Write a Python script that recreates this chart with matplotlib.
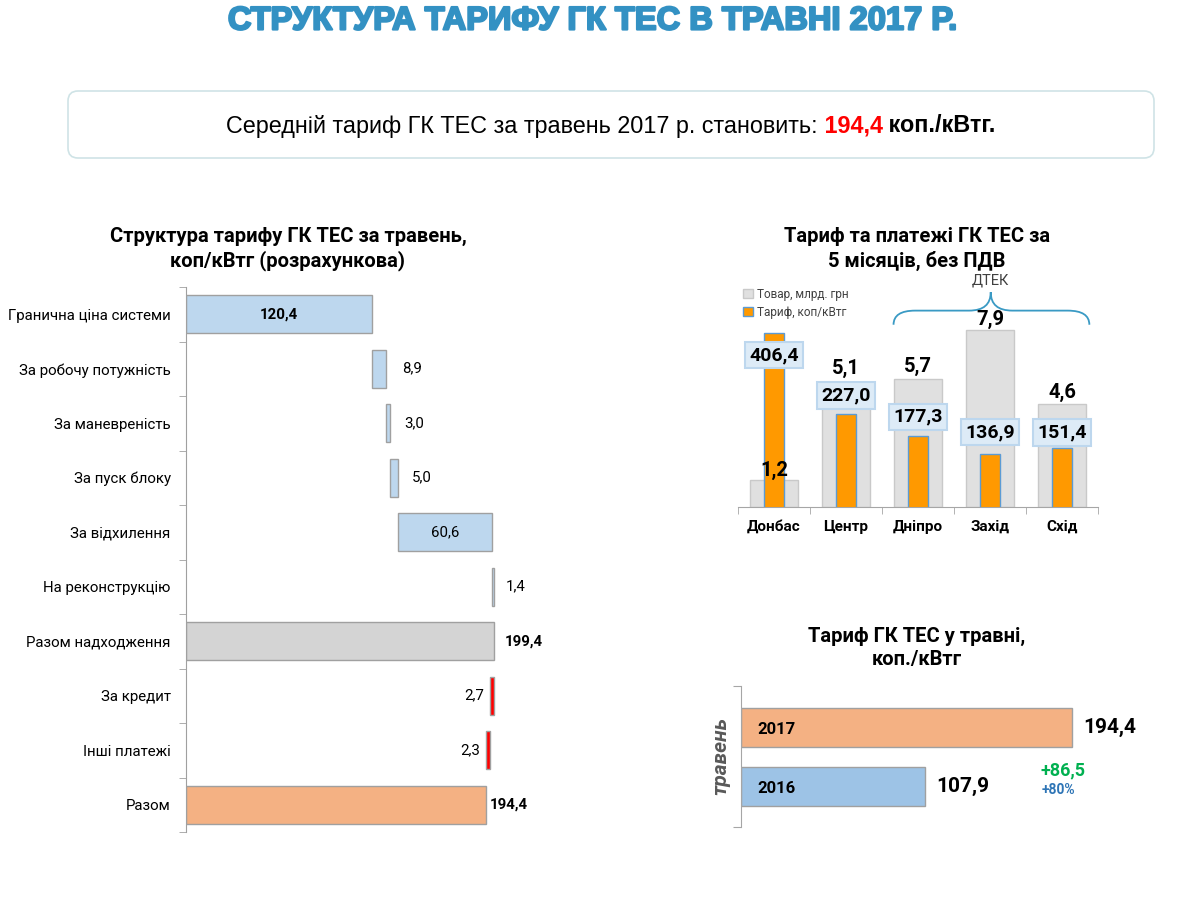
import matplotlib.pyplot as plt
from matplotlib.patches import FancyBboxPatch, Patch, PathPatch
from matplotlib.path import Path
import matplotlib.patheffects as pe
import numpy as np

plt.rcParams['font.family'] = ['Roboto', 'DejaVu Sans']

#-----------------------------------------------------------------------------------
### Data
#-----------------------------------------------------------------------------------

main_title = 'СТРУКТУРА ТАРИФУ ГК ТЕС В ТРАВНІ 2017 Р.'
avg_text = 'Середній тариф ГК ТЕС за травень 2017 р. становить:'
avg_value = '194,4'
avg_unit = 'коп./кВтг.'

# waterfall (left)
struct_labels = ['Гранична ціна системи', 'За робочу потужність', 'За маневреність',
                 'За пуск блоку', 'За відхилення', 'На реконструкцію',
                 'Разом надходження', 'За кредит', 'Інші платежі', 'Разом']
struct_values = [120.4, 8.9, 3.0, 5.0, 60.6, 1.4, 199.4, -2.7, -2.3, 194.4]
struct_kind = ['add', 'add', 'add', 'add', 'add', 'add', 'total', 'sub', 'sub', 'total2']

# tariff and payments by region (top right)
regions = ['Донбас', 'Центр', 'Дніпро', 'Захід', 'Схід']
goods = [1.2, 5.1, 5.7, 7.9, 4.6]            # Товар, млрд. грн
tariff = [406.4, 227.0, 177.3, 136.9, 151.4]  # Тариф, коп/кВтг

# may tariff (bottom right)
years = ['2016', '2017']
may_tariff = [107.9, 194.4]
diff_abs = '+86,5'
diff_pct = '+80%'


def fmt(v):
    return ('%.1f' % v).replace('.', ',')


PX = 0.72  # points per pixel at dpi 100

fig = plt.figure(figsize=(12, 9), dpi=100)

# overlay for titles and the text box
bg = fig.add_axes([0, 0, 1, 1])
bg.set_xlim(0, 1200)
bg.set_ylim(900, 0)
bg.axis('off')

bg.text(592, 21, main_title, ha='center', va='center', fontsize=23.5, fontweight='bold',
        color='#3391C3', family=['Liberation Sans Narrow', 'Liberation Sans', 'DejaVu Sans'],
        path_effects=[pe.withStroke(linewidth=1.6, foreground='#3391C3')])

bg.add_patch(FancyBboxPatch((68, 91), 1086, 67, boxstyle='round,pad=0,rounding_size=10',
                            fc='white', ec='#CFE3E6', lw=1.2))
box_font = ['Liberation Sans', 'DejaVu Sans']
t1 = bg.text(226, 126, avg_text, ha='left', va='center', fontsize=16.8, family=box_font)
t2 = bg.annotate(' ' + avg_value, xy=(1, 0), xycoords=t1, va='bottom', ha='left',
                 fontsize=16.8, fontweight='bold', color='#FF0000', family=box_font)
bg.annotate(' ' + avg_unit, xy=(1, 0), xycoords=t2, va='bottom', ha='left',
            fontsize=16.8, fontweight='bold', family=box_font)

bg.text(288, 249, 'Структура тарифу ГК ТЕС за травень,\nкоп/кВтг (розрахункова)',
        ha='center', va='center', fontsize=14.5, fontweight='bold', linespacing=1.25)
bg.text(917, 249, 'Тариф та платежі ГК ТЕС за\n5 місяців, без ПДВ',
        ha='center', va='center', fontsize=14.5, fontweight='bold', linespacing=1.25)
bg.text(917, 648, 'Тариф ГК ТЕС у травні,\nкоп./кВтг',
        ha='center', va='center', fontsize=14.5, fontweight='bold', linespacing=1.25)

#-----------------------------------------------------------------------------------
### Left: waterfall
#-----------------------------------------------------------------------------------

ax1 = fig.add_axes([186/1200, 1-832/900, 334/1200, 545/900])
colors = {'add': '#BDD7EE', 'total': '#D4D4D4', 'sub': '#FF0000', 'total2': '#F4B183'}

lefts, widths = [], []
cum = 0
for v, k in zip(struct_values, struct_kind):
    if k == 'add':
        lefts.append(cum); widths.append(v); cum += v
    elif k in ('total', 'total2'):
        lefts.append(0); widths.append(v); cum = v
    else:
        cum += v
        lefts.append(cum); widths.append(-v)

ypos = np.arange(len(struct_labels))
ax1.barh(ypos, widths, left=lefts, height=0.7,
         color=[colors[k] for k in struct_kind], edgecolor='#A0A0A0', linewidth=1)

label_mode = ['in', 'right', 'right', 'right', 'in', 'right', 'right', 'left', 'left', 'right']
label_bold = [True, False, False, False, False, False, True, False, False, True]
label_gap = [0, 16, 14, 14, 0, 12, 11, 6, 6, 3]
for i, v in enumerate(struct_values):
    l, w = lefts[i], widths[i]
    wt = 'bold' if label_bold[i] else 'normal'
    if label_mode[i] == 'in':
        ax1.text(l + w / 2, i, fmt(abs(v)), ha='center', va='center', fontsize=10.8, fontweight=wt)
    elif label_mode[i] == 'right':
        ax1.annotate(fmt(abs(v)), (l + w, i), xytext=(label_gap[i] * PX, 0),
                     textcoords='offset points', ha='left', va='center', fontsize=10.8, fontweight=wt)
    else:
        ax1.annotate(fmt(abs(v)), (l, i), xytext=(-label_gap[i] * PX, 0),
                     textcoords='offset points', ha='right', va='center', fontsize=10.8, fontweight=wt)

ax1.set_xlim(0, 334 / 1.545)
ax1.set_ylim(len(struct_labels) - 0.5, -0.5)
ax1.set_yticks(ypos)
ax1.set_yticklabels(struct_labels, fontsize=10.8)
ax1.set_yticks(np.arange(-0.5, len(struct_labels)), minor=True)
ax1.tick_params(axis='y', which='major', length=0, pad=11)
ax1.tick_params(axis='y', which='minor', length=5, color='#A0A0A0', direction='out')
ax1.set_xticks([])
for s in ['top', 'right', 'bottom']:
    ax1.spines[s].set_visible(False)
ax1.spines['left'].set_color('#A0A0A0')

#-----------------------------------------------------------------------------------
### Top right: goods and tariff by region
#-----------------------------------------------------------------------------------

ax2 = fig.add_axes([738/1200, 1-507/900, 360/1200, 217/900])
xpos = np.arange(len(regions))
ax2.bar(xpos, goods, width=0.67, color='#E0E0E0', edgecolor='#C9C9C9', linewidth=1,
        label='Товар, млрд. грн')
ax2.set_ylim(0, 217 / 22.4)
ax2.set_xlim(-0.5, len(regions) - 0.5)

ax2b = ax2.twinx()
ax2b.bar(xpos, tariff, width=0.27, color='#FF9900', edgecolor='#5B9BD5', linewidth=1,
         label='Тариф, коп/кВтг')
ax2b.set_ylim(19, 19 + 217 / 0.449)

# goods labels go on the top axes so they sit over the orange bars
goods_dy = [10, 24, 13, 11, 12]
for i, v in enumerate(goods):
    ax2b.annotate(fmt(v), (i, v), xycoords=ax2.transData, xytext=(0, goods_dy[i] * PX),
                  textcoords='offset points', ha='center', va='center', fontsize=14.5,
                  fontweight='bold', zorder=5)

tariff_dy = [-22, 18, 19, 22, 15]
for i, v in enumerate(tariff):
    ax2b.annotate(fmt(v), (i, v), xytext=(0, tariff_dy[i] * PX), textcoords='offset points',
                  ha='center', va='center', fontsize=14, fontweight='bold',
                  bbox=dict(boxstyle='square,pad=0.22', fc='#DDEBF7', ec='#BDD7EE', lw=1.5))

for a in (ax2, ax2b):
    a.set_yticks([])
    for s in ['top', 'right', 'left']:
        a.spines[s].set_visible(False)
ax2b.spines['bottom'].set_visible(False)
ax2.spines['bottom'].set_color('#A6A6A6')
ax2.set_xticks(xpos)
ax2.set_xticklabels(regions, fontsize=11, fontweight='bold')
ax2.set_xticks(np.arange(-0.5, len(regions)), minor=True)
ax2.tick_params(axis='x', which='major', length=0, pad=9)
ax2.tick_params(axis='x', which='minor', length=5, color='#A6A6A6')

handles = [Patch(fc='#E0E0E0', ec='#C9C9C9', label='Товар, млрд. грн'),
           Patch(fc='#FF9900', ec='#5B9BD5', label='Тариф, коп/кВтг')]
ax2b.legend(handles=handles, loc='upper left', bbox_to_anchor=(-0.015, 1.06), frameon=False,
            fontsize=8.5, handlelength=0.8, handleheight=0.8, handletextpad=0.4,
            labelspacing=0.45, labelcolor='#404040')

# brace over the DTEK regions
tr = ax2.get_xaxis_transform()
x0, xm, x1 = 1.66, 3.01, 4.38
y0, y1, y2 = 0.84, 0.905, 0.99
dx = 0.3
verts = [(x0, y0), (x0, y1), (x0 + dx, y1), (xm - dx, y1), (xm, y1), (xm, y2),
         (xm, y1), (xm + dx, y1), (x1 - dx, y1), (x1, y1), (x1, y0)]
codes = [Path.MOVETO, Path.CURVE3, Path.CURVE3, Path.LINETO, Path.CURVE3, Path.CURVE3,
         Path.CURVE3, Path.CURVE3, Path.LINETO, Path.CURVE3, Path.CURVE3]
ax2.add_patch(PathPatch(Path(verts, codes), fc='none', ec='#3A9AC4', lw=1.3,
                        transform=tr, clip_on=False))
ax2.text(xm, 1.045, 'ДТЕК', transform=tr, ha='center', va='center', fontsize=10.5,
         color='#404040')

#-----------------------------------------------------------------------------------
### Bottom right: tariff in May
#-----------------------------------------------------------------------------------

ax3 = fig.add_axes([741/1200, 1-827/900, 409/1200, 141/900])
ypos3 = np.arange(len(years))
ax3.barh(ypos3, may_tariff, height=0.66, color=['#9DC3E6', '#F4B183'],
         edgecolor='#A0A0A0', linewidth=1)
ax3.set_xlim(0, 409 / 1.703)
ax3.set_ylim(-0.686, 1.703)
for i, v in enumerate(may_tariff):
    ax3.annotate(years[i], (0, i), xytext=(16 * PX, -2 * PX), textcoords='offset points',
                 ha='left', va='center', fontsize=12, fontweight='bold')
    ax3.annotate(fmt(v), (v, i), xytext=(11 * PX, 0), textcoords='offset points',
                 ha='left', va='center', fontsize=15, fontweight='bold')
ax3.text(0.787, 0.40, diff_abs, transform=ax3.transAxes, ha='center', va='center',
         fontsize=13, fontweight='bold', color='#00B050')
ax3.text(0.777, 0.265, diff_pct, transform=ax3.transAxes, ha='center', va='center',
         fontsize=10, fontweight='bold', color='#2E75B6')
ax3.text(-0.05, 0.5, 'травень', transform=ax3.transAxes, rotation=90, ha='center',
         va='center', fontsize=15, fontweight='bold', fontstyle='italic', color='#595959')
ax3.set_xticks([])
ax3.set_yticks([-0.686, 1.703])
ax3.set_yticklabels([])
ax3.tick_params(axis='y', length=6, color='#A6A6A6')
for s in ['top', 'right', 'bottom']:
    ax3.spines[s].set_visible(False)
ax3.spines['left'].set_color('#A6A6A6')

fig.savefig('out.png', dpi=100)
